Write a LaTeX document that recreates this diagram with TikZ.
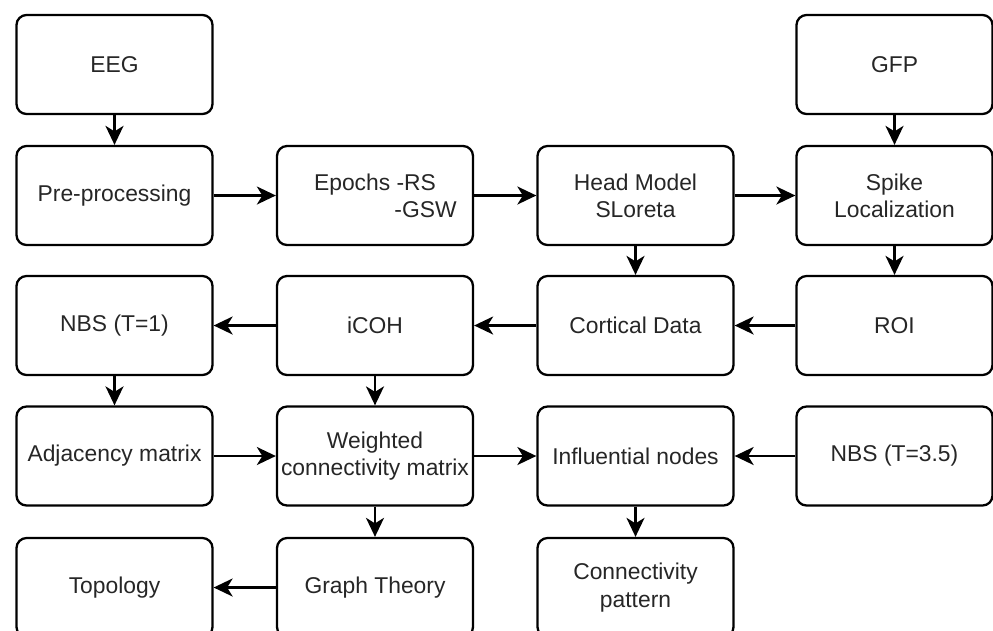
\documentclass[tikz,border=0pt]{standalone}
\usepackage{fontspec}
\setmainfont{Liberation Sans}
\usetikzlibrary{arrows.meta,positioning}

\begin{document}
\begin{tikzpicture}[>={Stealth[length=0.38cm, width=0.36cm, inset=0.11cm]},
    block/.style={draw, line width=1.3pt, rounded corners=0.2cm, align=center, minimum width=3.92cm, minimum height=1.98cm, inner sep=0pt, text=black!85, font=\fontsize{13}{15.5}\selectfont},
    flow/.style={->, line width=1.3pt}]
    \useasboundingbox (0,0) rectangle (19.86,-12.6);
    % row 1
    \node[block] (eeg) at (2.29,-1.29) {EEG};
    \node[block] (gfp) at (17.89,-1.29) {GFP};
    % row 2
    \node[block] (prep) at (2.29,-3.91) {Pre-processing};
    \node[block] (epochs) at (7.5,-3.91) {Epochs -RS\\\hspace*{2.02cm}-GSW};
    \node[block] (head) at (12.71,-3.91) {Head Model\\SLoreta};
    \node[block] (spike) at (17.89,-3.91) {Spike\\Localization};
    % row 3
    \node[block] (nbsa) at (2.29,-6.51) {NBS (T=1)};
    \node[block] (icoh) at (7.5,-6.51) {iCOH};
    \node[block] (cortical) at (12.71,-6.51) {Cortical Data};
    \node[block] (roi) at (17.89,-6.51) {ROI};
    % row 4
    \node[block] (adj) at (2.29,-9.12) {Adjacency matrix};
    \node[block] (wcm) at (7.5,-9.12) {Weighted\\connectivity matrix};
    \node[block] (infl) at (12.71,-9.12) {Influential nodes};
    \node[block] (nbsb) at (17.89,-9.12) {NBS (T=3.5)};
    % row 5
    \node[block] (topo) at (2.29,-11.75) {Topology};
    \node[block] (graph) at (7.5,-11.75) {Graph Theory};
    \node[block] (conn) at (12.71,-11.75) {Connectivity\\pattern};
    % connectors
    \draw[flow] (eeg) -- (prep);
    \draw[flow] (prep) -- (epochs);
    \draw[flow] (epochs) -- (head);
    \draw[flow] (head) -- (spike);
    \draw[flow] (gfp) -- (spike);
    \draw[flow] (head) -- (cortical);
    \draw[flow] (spike) -- (roi);
    \draw[flow] (roi) -- (cortical);
    \draw[flow] (cortical) -- (icoh);
    \draw[flow] (icoh) -- (nbsa);
    \draw[flow] (nbsa) -- (adj);
    \draw[flow] (icoh) -- (wcm);
    \draw[flow] (adj) -- (wcm);
    \draw[flow] (wcm) -- (infl);
    \draw[flow] (nbsb) -- (infl);
    \draw[flow] (wcm) -- (graph);
    \draw[flow] (infl) -- (conn);
    \draw[flow] (graph) -- (topo);
  \end{tikzpicture}
\end{document}
